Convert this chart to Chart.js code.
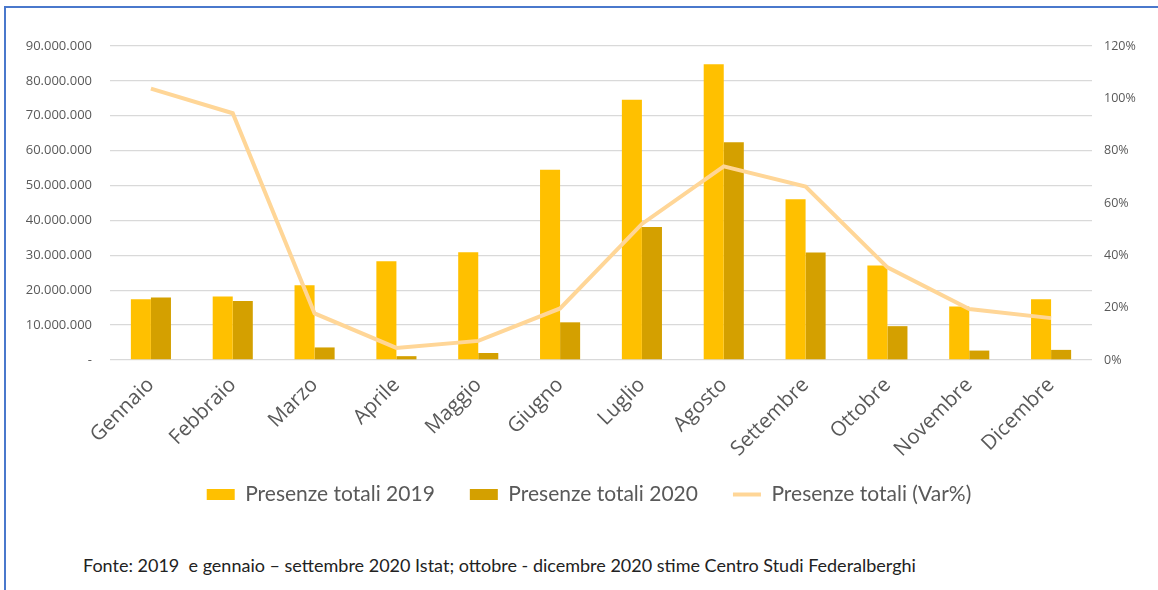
<!DOCTYPE html>
<html>
<head>
<meta charset="utf-8">
<script src="https://cdn.jsdelivr.net/npm/chart.js@4.4.1/dist/chart.umd.min.js"></script>
<style>
  html, body { margin: 0; padding: 0; background: #fff; overflow: hidden; }
  #frame {
    position: absolute; left: 4px; top: 6px; width: 1200px; height: 700px;
    border-left: 2px solid #4a78cc; border-top: 2px solid #4a78cc;
  }
  #wrap { position: absolute; left: 0; top: 0; width: 1158px; height: 515px; }
  #note {
    position: absolute; left: 83px; top: 554px;
    font-family: Lato, "Open Sans", sans-serif; font-size: 18px; color: #222;
    white-space: pre;
  }
</style>
</head>
<body>
<div id="frame"></div>
<div id="wrap"><canvas id="chart"></canvas></div>
<div id="note">Fonte: 2019  e gennaio – settembre 2020 Istat; ottobre - dicembre 2020 stime Centro Studi Federalberghi</div>
<script>
  // Monthly data
  const months = ['Gennaio', 'Febbraio', 'Marzo', 'Aprile', 'Maggio', 'Giugno',
    'Luglio', 'Agosto', 'Settembre', 'Ottobre', 'Novembre', 'Dicembre'];
  const presenze2019 = [17.4, 18.2, 21.4, 28.3, 30.9, 54.5, 74.6, 84.8, 46.1, 27.1, 15.3, 17.4].map(v => v * 1e6);
  const presenze2020 = [17.9, 16.9, 3.6, 1.1, 2.0, 10.8, 38.1, 62.4, 30.8, 9.7, 2.7, 2.9].map(v => v * 1e6);
  const varPct = [103.7, 94.3, 17.8, 4.6, 7.3, 19.7, 52.0, 74.0, 66.3, 35.4, 19.5, 16.0];

  const C2019 = '#FFC000';
  const C2020 = '#D4A000';
  const CVAR = '#FFD697';
  const tickColor = '#595959';
  const gridColor = '#D9D9D9';

  function fmtIt(v) {
    if (v === 0) return '-';
    return String(Math.round(v)).replace(/\B(?=(\d{3})+(?!\d))/g, '.');
  }

  new Chart(document.getElementById('chart'), {
    data: {
      labels: months,
      datasets: [
        {
          type: 'line', label: 'Presenze totali (Var%)', data: varPct, yAxisID: 'y1',
          borderColor: CVAR, backgroundColor: CVAR, borderWidth: 4,
          pointRadius: 0, tension: 0, order: 0
        },
        {
          type: 'bar', label: 'Presenze totali 2019', data: presenze2019, yAxisID: 'y',
          backgroundColor: C2019, categoryPercentage: 0.49, barPercentage: 1, order: 1
        },
        {
          type: 'bar', label: 'Presenze totali 2020', data: presenze2020, yAxisID: 'y',
          backgroundColor: C2020, categoryPercentage: 0.49, barPercentage: 1, order: 1
        }
      ]
    },
    options: {
      responsive: true,
      maintainAspectRatio: false,
      animation: false,
      layout: { padding: { left: 20, right: 0, top: 46, bottom: 0 } },
      plugins: {
        tooltip: { enabled: false },
        legend: {
          position: 'bottom',
          labels: {
            font: { family: 'Lato, "Open Sans", sans-serif', size: 21 },
            color: tickColor,
            usePointStyle: true,
            pointStyleWidth: 28,
            boxHeight: 11,
            padding: 35,
            generateLabels: function (chart) {
              const order = [1, 2, 0];
              return order.map(i => {
                const ds = chart.data.datasets[i];
                const isLine = ds.type === 'line';
                return {
                  text: ds.label,
                  datasetIndex: i,
                  fillStyle: ds.backgroundColor,
                  strokeStyle: isLine ? ds.borderColor : ds.backgroundColor,
                  lineWidth: isLine ? 4 : 0,
                  pointStyle: isLine ? 'line' : 'rect',
                  fontColor: tickColor,
                  hidden: false
                };
              });
            }
          }
        }
      },
      scales: {
        x: {
          grid: { display: false },
          border: { display: false },
          ticks: {
            color: tickColor, minRotation: 45, maxRotation: 45, padding: 5,
            font: { family: '"Open Sans", sans-serif', size: 20.5 }
          },
          afterFit: s => {
            s.height = 89;
            // let the rotated month names run past the fixed axis box
            s._computeLabelArea = () => null;
          }
        },
        y: {
          position: 'left', min: 0, max: 90000000,
          grid: { color: gridColor, lineWidth: 1.3, drawTicks: false },
          border: { display: false },
          ticks: {
            stepSize: 10000000, padding: 18, color: tickColor,
            font: { family: '"Open Sans", sans-serif', size: 13 },
            callback: v => fmtIt(v)
          },
          afterFit: s => { s.width = 90; }
        },
        y1: {
          position: 'right', min: 0, max: 120,
          grid: { display: false, drawTicks: false },
          border: { display: false },
          ticks: {
            stepSize: 20, padding: 12, color: tickColor,
            font: { family: '"Open Sans", sans-serif', size: 12.5 },
            callback: v => v + '%'
          },
          afterFit: s => { s.width = 66; }
        }
      }
    }
  });
</script>
</body>
</html>
